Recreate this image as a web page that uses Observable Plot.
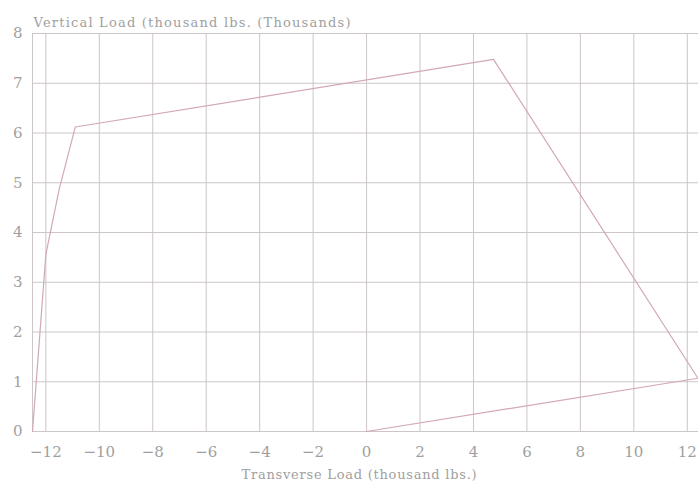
<!DOCTYPE html>
<html>
<head>
<meta charset="utf-8">
<script src="https://cdn.jsdelivr.net/npm/d3@7"></script>
<script src="https://cdn.jsdelivr.net/npm/@observablehq/plot@0.6"></script>
<style>
  html, body { margin: 0; padding: 0; background: #fff; }
  svg { display: block; }
  .lbl text { letter-spacing: 0.75px; }
  .ttl text { letter-spacing: 1.2px; }
</style>
</head>
<body>
<div id="chart"></div>
<script>
// Envelope of transverse vs vertical load (thousand lbs.)
const transverse = [-12.5, -12.0, -11.5, -10.9, 4.75, 12.4, 0.0];
const vertical   = [0.0,   3.56,  4.87,  6.12,  7.48, 1.07, 0.0];
const xTicks = [-12, -10, -8, -6, -4, -2, 0, 2, 4, 6, 8, 10, 12];
const yTicks = [0, 1, 2, 3, 4, 5, 6, 7, 8];
const title = "Vertical Load (thousand lbs. (Thousands)";
const xLabel = "Transverse Load (thousand lbs.)";

const pts = transverse.map((x, i) => ({x, y: vertical[i]}));

const gridColor = "#ccc6c8";
const textColor = "#a0a0a0";

const chart = Plot.plot({
  width: 698,
  height: 489,
  marginLeft: 32,
  marginRight: 0,
  marginTop: 33,
  marginBottom: 58,
  style: {fontFamily: "'DejaVu Serif', serif", fontSize: "13px", color: textColor, background: "#fff"},
  x: {domain: [-12.5, 12.42], ticks: xTicks, label: null},
  y: {domain: [0, 8], ticks: yTicks, label: null},
  marks: [
    Plot.gridX(xTicks, {stroke: gridColor, strokeOpacity: 1, strokeWidth: 1}),
    Plot.gridY(yTicks, {stroke: gridColor, strokeOpacity: 1, strokeWidth: 1}),
    Plot.frame({stroke: gridColor, strokeWidth: 1}),
    Plot.axisX(xTicks, {tickSize: 0, tickPadding: 15, fontSize: 15, fill: textColor, label: null, tickFormat: d3.format("d")}),
    Plot.axisY(yTicks, {tickSize: 0, tickPadding: 10, fontSize: 15, fill: textColor, label: null, tickFormat: d3.format("d")}),
    Plot.line(pts, {x: "x", y: "y", stroke: "#d2a8b7", strokeWidth: 1.2}),
    Plot.text([title], {frameAnchor: "top-left", dy: -16, dx: 1, textAnchor: "start", fontSize: 13, fill: textColor, className: "ttl"}),
    Plot.text([xLabel], {frameAnchor: "bottom", dy: 47, dx: -6, fontSize: 13, fill: textColor, className: "lbl"})
  ]
});
document.getElementById("chart").append(chart);
</script>
</body>
</html>
